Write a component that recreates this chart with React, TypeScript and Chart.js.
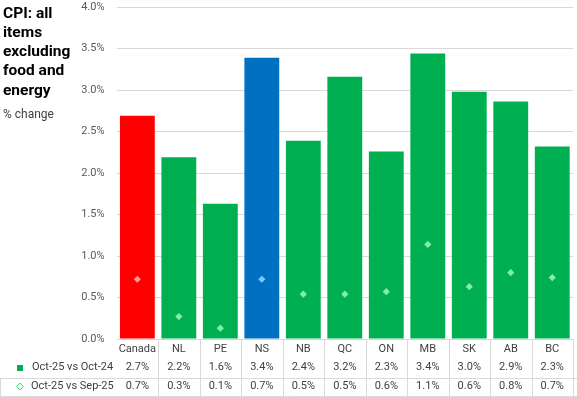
import React, { useEffect, useRef } from 'react';
import { Chart, registerables } from 'chart.js';

Chart.register(...registerables);

const categories = ['Canada', 'NL', 'PE', 'NS', 'NB', 'QC', 'ON', 'MB', 'SK', 'AB', 'BC'];
const yoyValues = [2.69, 2.19, 1.63, 3.39, 2.39, 3.16, 2.26, 3.44, 2.98, 2.86, 2.32];
const momValues = [0.72, 0.27, 0.13, 0.72, 0.54, 0.54, 0.57, 1.14, 0.63, 0.8, 0.74];
const seriesNames = ['Oct-25 vs Oct-24', 'Oct-25 vs Sep-25'];
const titleLines = ['CPI: all', 'items', 'excluding', 'food and', 'energy'];
const unitLabel = '% change';
const yMin = 0;
const yMax = 4;
const yStep = 0.5;

const RED = '#FF0000';
const GREEN = '#00B050';
const BLUE = '#0070C0';
const barColors = categories.map((c) => (c === 'Canada' ? RED : c === 'NS' ? BLUE : GREEN));
const markerColors = categories.map((c) => (c === 'Canada' ? '#FF9C9C' : c === 'NS' ? '#86C4FF' : '#80EFA8'));

const FONT = 'Roboto, "Liberation Sans", sans-serif';
const TEXT = '#404040';
const GRID = '#d9d9d9';

const fmt = (v: number) => v.toFixed(1) + '%';

const tablePlugin = {
  id: 'tableAndTitle',
  afterDraw(chart: any) {
    const ctx = chart.ctx as CanvasRenderingContext2D;
    const xs = chart.scales.x;
    const ca = chart.chartArea;
    const W = chart.width;
    const H = chart.height;
    const n = categories.length;
    const colW = (ca.right - ca.left) / n;
    const rowCat = ca.bottom + 10;
    const row1 = ca.bottom + 28.5;
    const row2 = ca.bottom + 47.5;
    const sep = ca.bottom + 38.5;
    const bottom = H - 0.5;

    ctx.save();
    ctx.strokeStyle = GRID;
    ctx.lineWidth = 1;
    ctx.beginPath();
    for (let i = 1; i <= n; i++) {
      let bx = Math.round(ca.left + i * colW) + 0.5;
      if (bx > W - 0.5) bx = W - 0.5;
      ctx.moveTo(bx, ca.bottom);
      ctx.lineTo(bx, bottom);
    }
    ctx.moveTo(0, Math.round(sep) + 0.5);
    ctx.lineTo(W, Math.round(sep) + 0.5);
    ctx.moveTo(0, bottom);
    ctx.lineTo(W, bottom);
    ctx.moveTo(0.5, Math.round(sep) + 0.5);
    ctx.lineTo(0.5, bottom);
    ctx.stroke();

    ctx.fillStyle = TEXT;
    ctx.font = '11px ' + FONT;
    ctx.textAlign = 'center';
    ctx.textBaseline = 'middle';
    categories.forEach((c, i) => {
      const cx = xs.getPixelForValue(i);
      ctx.fillText(c, cx, rowCat);
      ctx.fillText(fmt(yoyValues[i]), cx, row1);
      ctx.fillText(fmt(momValues[i]), cx, row2);
    });

    // legend keys
    ctx.textAlign = 'left';
    ctx.fillText(seriesNames[0], 32, row1);
    ctx.fillText(seriesNames[1], 31, row2);
    ctx.fillStyle = GREEN;
    ctx.fillRect(17, Math.round(row1) - 3, 6, 6);
    ctx.beginPath();
    const kx = 20, ky = row2;
    ctx.moveTo(kx, ky - 3.5);
    ctx.lineTo(kx + 3.5, ky);
    ctx.lineTo(kx, ky + 3.5);
    ctx.lineTo(kx - 3.5, ky);
    ctx.closePath();
    ctx.fillStyle = '#E8FFF0';
    ctx.fill();
    ctx.strokeStyle = '#4FD98A';
    ctx.stroke();

    // title
    ctx.fillStyle = '#000000';
    ctx.font = 'bold 15.5px ' + FONT;
    ctx.textAlign = 'left';
    ctx.textBaseline = 'alphabetic';
    titleLines.forEach((t, i) => {
      ctx.fillText(t, 3, 17.5 + i * 19.3);
    });
    ctx.fillStyle = TEXT;
    ctx.font = '12px ' + FONT;
    ctx.fillText(unitLabel, 3, 118);
    ctx.restore();
  },
};

export default function App() {
  const ref = useRef<HTMLCanvasElement | null>(null);

  useEffect(() => {
    if (!ref.current) return;
    const chart = new Chart(ref.current, {
      type: 'bar',
      data: {
        labels: categories,
        datasets: [
          {
            type: 'bar',
            label: seriesNames[0],
            data: yoyValues,
            backgroundColor: barColors,
            borderWidth: 0,
            barPercentage: 0.84,
            categoryPercentage: 1,
            order: 1,
          },
          {
            type: 'line',
            label: seriesNames[1],
            data: momValues,
            showLine: false,
            pointStyle: 'rectRot',
            pointRadius: 3.6,
            pointBackgroundColor: markerColors,
            pointBorderColor: markerColors,
            pointBorderWidth: 0,
            order: 0,
          } as any,
        ],
      },
      options: {
        responsive: false,
        animation: false,
        devicePixelRatio: 1,
        layout: { padding: { top: 7, left: 0, right: 0.6, bottom: 0 } },
        plugins: { legend: { display: false }, tooltip: { enabled: false }, title: { display: false } },
        scales: {
          x: {
            offset: true,
            grid: { display: false },
            border: { display: false },
            ticks: { display: false },
            afterFit: (s: any) => {
              s.height = 58;
              s.paddingLeft = 0;
              s.paddingRight = 0;
            },
          },
          y: {
            min: yMin,
            max: yMax,
            grid: { color: GRID, drawTicks: false },
            border: { display: false },
            ticks: {
              stepSize: yStep,
              padding: 12,
              color: '#595959',
              font: { family: FONT, size: 11 },
              callback: (v: any) => Number(v).toFixed(1) + '%',
            },
            afterFit: (s: any) => {
              s.width = 116.6;
              s.paddingTop = 0;
              s.paddingBottom = 0;
            },
          },
        },
      },
      plugins: [tablePlugin],
    });
    return () => chart.destroy();
  }, []);

  return (
    <div style={{ position: 'fixed', left: 0, top: 0, width: 577, height: 397, background: '#fff' }}>
      <canvas ref={ref} width={577} height={397} style={{ display: 'block' }} />
    </div>
  );
}
